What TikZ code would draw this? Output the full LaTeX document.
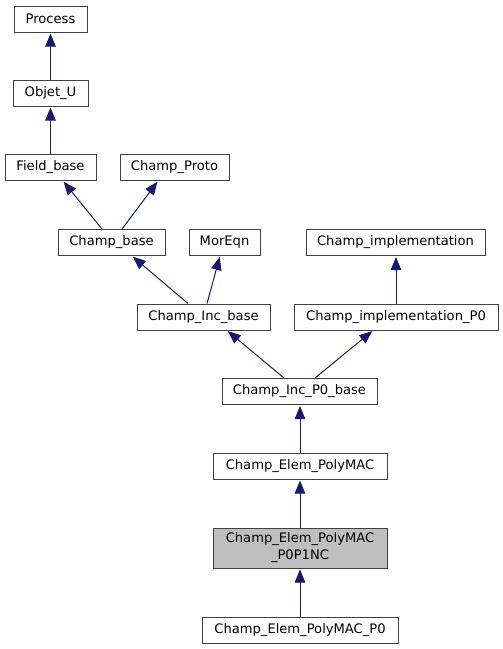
\documentclass[tikz,border=0pt]{standalone}
\usepackage{fontspec}
\setmainfont{DejaVu Sans}
\usepackage{tikz}
\usetikzlibrary{arrows.meta, calc}
\definecolor{edgeblue}{RGB}{25,25,112}
\definecolor{boxgray}{RGB}{191,191,191}
\definecolor{boxline}{RGB}{64,64,64}
\tikzset{
    cls/.style={draw=boxline, line width=1pt, fill=white, inner sep=0pt, minimum height=26pt, align=center, font=\fontsize{13.1}{17}\selectfont},
    inh/.style={draw=edgeblue, line width=1pt, -{Triangle[length=13pt,width=10.5pt]}, shorten >=1pt}
}

\begin{document}
\begin{tikzpicture}[x=1pt, y=-1pt]
    % Define the page
    \useasboundingbox (0,0) rectangle (503,649);
    
    % Draw class boxes
    \node[cls, minimum width=73pt] (process) at (50.5,19) {Process};
    \node[cls, minimum width=75pt] (objet) at (50.5,93) {Objet\_U};
    \node[cls, minimum width=91pt] (field) at (50.5,167.5) {Field\_base};
    \node[cls, minimum width=109pt] (proto) at (174.5,167.5) {Champ\_Proto};
    \node[cls, minimum width=107pt] (cbase) at (111.5,242.5) {Champ\_base};
    \node[cls, minimum width=71pt] (moreqn) at (224.5,242.5) {MorEqn};
    \node[cls, minimum width=179pt] (impl) at (395.5,242.5) {Champ\_implementation};
    \node[cls, minimum width=133pt] (incbase) at (203.5,317) {Champ\_Inc\_base};
    \node[cls, minimum width=204pt] (implpz) at (396,317) {Champ\_implementation\_P0};
    \node[cls, minimum width=155pt] (incpz) at (299.5,391.5) {Champ\_Inc\_P0\_base};
    \node[cls, minimum width=174pt] (elem) at (300,466) {Champ\_Elem\_PolyMAC};
    \node[cls, minimum width=174pt, minimum height=40pt, fill=boxgray] (elemnc) at (300,548) {Champ\_Elem\_PolyMAC\\\_P0P1NC};
    \node[cls, minimum width=196pt] (elempz) at (300,630) {Champ\_Elem\_PolyMAC\_P0};
    
    % Draw inheritance arrows
    \draw[inh] (objet.north) -- (process.south);
    \draw[inh] (field.north) -- (objet.south);
    \draw[inh] ([xshift=-9.5pt]cbase.north) -- ([xshift=12.5pt]field.south);
    \draw[inh] ([xshift=10.5pt]cbase.north) -- ([xshift=-16.5pt]proto.south);
    \draw[inh] ([xshift=-15.5pt]incbase.north) -- ([xshift=20.5pt]cbase.south);
    \draw[inh] ([xshift=3.5pt]incbase.north) -- ([xshift=-4.5pt]moreqn.south);
    \draw[inh] (implpz.north) -- (implpz.north |- impl.south);
    \draw[inh] ([xshift=-15.5pt]incpz.north) -- ([xshift=23.5pt]incbase.south);
    \draw[inh] ([xshift=15.5pt]incpz.north) -- ([xshift=-23pt]implpz.south);
    \draw[inh] (elem.north) -- (elem.north |- incpz.south);
    \draw[inh] (elemnc.north) -- (elem.south);
    \draw[inh] (elempz.north) -- (elemnc.south);
\end{tikzpicture}
\end{document}
